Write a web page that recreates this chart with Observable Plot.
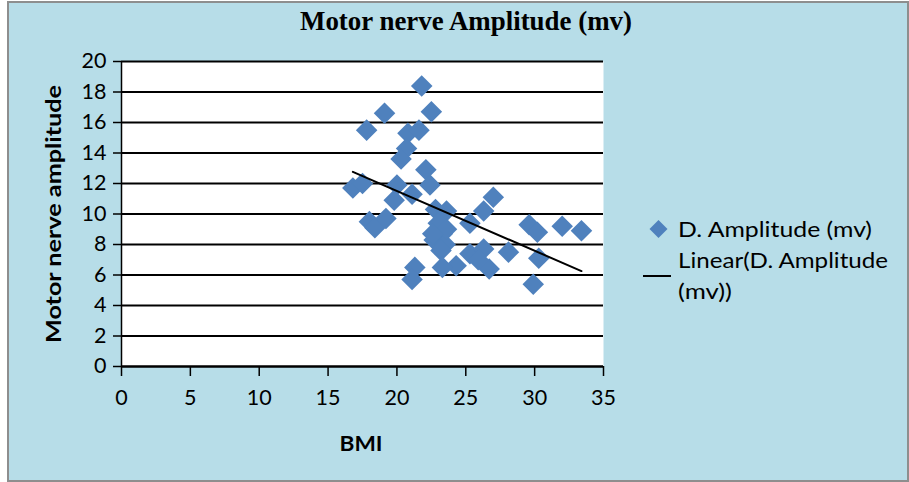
<!DOCTYPE html>
<html><head><meta charset="utf-8">
<script src="https://cdn.jsdelivr.net/npm/d3@7"></script>
<script src="https://cdn.jsdelivr.net/npm/@observablehq/plot@0.6"></script>
<style>
html,body{margin:0;padding:0;background:#fff;}
#wrap{position:relative;width:909px;height:482px;overflow:hidden;}
#bg{position:absolute;left:7px;top:1px;width:898px;height:477px;background:#b7dde8;border:2px solid #8e8e8e;}
#chart{position:absolute;left:0;top:0;}
#overlay{position:absolute;left:0;top:0;}
</style></head><body>
<div id="wrap"><div id="bg"></div><div id="chart"></div>
<svg id="overlay" width="909" height="482" xmlns="http://www.w3.org/2000/svg"></svg></div>
<script>
// ---- data ----
const bmi = [21.8,19.1,22.5,17.8,20.8,21.6,20.7,20.3,22.1,22.4,16.8,17.5,20.0,21.1,19.8,22.8,23.6,18.0,18.4,19.2,23.0,23.3,22.7,23.5,23.2,25.3,25.3,26.3,26.7,28.1,24.3,23.3,21.3,21.1,26.3,27.0,29.6,30.2,32.0,33.4,30.3,29.9,25.9,23.6,22.6];
const amplitude = [18.4,16.6,16.7,15.5,15.3,15.5,14.3,13.6,12.9,11.9,11.7,12.0,11.9,11.3,10.9,10.3,10.2,9.5,9.1,9.7,9.4,8.7,8.3,8.0,7.6,9.4,7.4,7.7,6.4,7.5,6.6,6.5,6.5,5.7,10.2,11.1,9.3,8.8,9.2,8.9,7.1,5.4,7.0,9.0,8.7];
const trendIntercept = 19.35;
const trendSlope = -0.392;
const xTicks = [0,5,10,15,20,25,30,35];
const yTicks = [0,2,4,6,8,10,12,14,16,18,20];
const chartTitle = "Motor nerve Amplitude (mv)";
const xTitle = "BMI";
const yTitle = "Motor nerve amplitude";
const legendSeries = "D. Amplitude (mv)";
const legendTrend = ["Linear(D. Amplitude", "(mv))"];

const points = bmi.map((x, i) => ({x, y: amplitude[i]}));
const xMin = d3.min(bmi), xMax = d3.max(bmi);
const trend = [xMin, xMax].map(x => ({x, y: trendIntercept + trendSlope * x}));

const plot = Plot.plot({
  width: 909, height: 482,
  marginLeft: 121, marginRight: 306, marginTop: 61, marginBottom: 116,
  style: {background: "transparent", fontFamily: "Lato, sans-serif", fontSize: "21px", color: "black"},
  x: {domain: [0, 35]},
  y: {domain: [0, 20]},
  marks: [
    Plot.frame({fill: "white", stroke: "none"}),
    Plot.gridY(yTicks, {stroke: "black", strokeOpacity: 1, strokeWidth: 2}),
    Plot.axisY(yTicks, {tickSize: 8, tickPadding: 7, label: null, strokeWidth: 1.5, fontSize: 21.5}),
    Plot.axisX(xTicks, {tickSize: 10, tickPadding: 13, label: null, strokeWidth: 1.5, fontSize: 21.5}),
    Plot.ruleX([0], {stroke: "black", strokeWidth: 1.5}),
    Plot.ruleY([0], {stroke: "black", strokeWidth: 2}),
    Plot.dot(points, {x: "x", y: "y", symbol: "diamond2", r: 9.7, fill: "#4f81bd", stroke: "none"}),
    Plot.line(trend, {x: "x", y: "y", stroke: "black", strokeWidth: 2})
  ]
});
document.getElementById("chart").appendChild(plot);

// ---- overlay texts (title, axis titles, legend) ----
const ov = d3.select("#overlay");
ov.append("text").attr("x", 466).attr("y", 30).attr("text-anchor", "middle")
  .attr("font-family", "Liberation Serif, serif").attr("font-weight", "bold").attr("font-size", 27)
  .attr("textLength", 332).attr("lengthAdjust", "spacingAndGlyphs").text(chartTitle);
ov.append("text").attr("transform", "translate(61,214) rotate(-90)").attr("text-anchor", "middle")
  .attr("font-family", "Lato, sans-serif").attr("font-weight", "bold").attr("font-size", 21.5)
  .attr("textLength", 258).attr("lengthAdjust", "spacingAndGlyphs").text(yTitle);
ov.append("text").attr("x", 361).attr("y", 451).attr("text-anchor", "middle")
  .attr("font-family", "Lato, sans-serif").attr("font-weight", "bold").attr("font-size", 20)
  .attr("textLength", 43).attr("lengthAdjust", "spacingAndGlyphs").text(xTitle);
ov.append("path").attr("d", "M658.5,220 L667.5,229 L658.5,238 L649.5,229 Z").attr("fill", "#4f81bd");
ov.append("line").attr("x1", 643).attr("x2", 671).attr("y1", 276).attr("y2", 276).attr("stroke", "black").attr("stroke-width", 2);
const lg = [[legendSeries, 237, 194], [legendTrend[0], 268, 210], [legendTrend[1], 299, 54]];
lg.forEach(([t, y, w]) => {
  ov.append("text").attr("x", 678).attr("y", y).attr("font-family", "Lato, sans-serif").attr("font-size", 21)
    .attr("textLength", w).attr("lengthAdjust", "spacingAndGlyphs").text(t);
});
</script>
</body></html>
